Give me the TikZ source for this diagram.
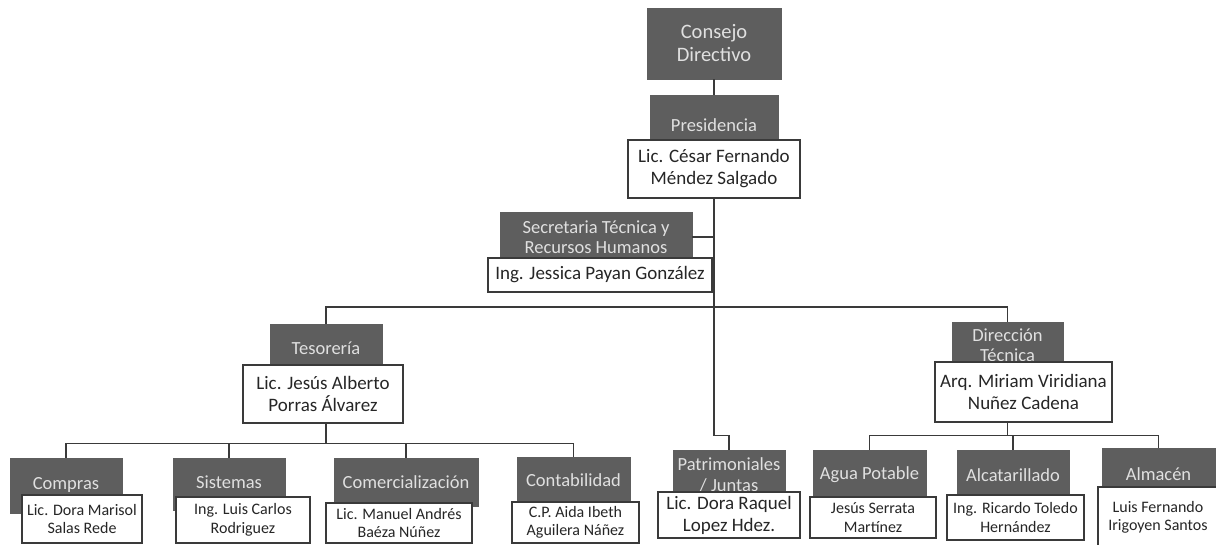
\documentclass[tikz,border=0pt]{standalone}
\usepackage{fontspec}
\setmainfont{Carlito}
\definecolor{unitgray}{HTML}{5E5E5E}
\definecolor{linegray}{HTML}{3A3A3A}

\begin{document}
\begin{tikzpicture}[x=1pt, y=-1pt,
    unit/.style = {fill=unitgray, draw=unitgray, text=white!88!black, align=center, inner sep=0pt, font=\fontsize{18.5}{20.5}\selectfont},
    person/.style = {fill=white, draw=linegray, line width=1.3pt, text=black!85, align=center, inner sep=0pt, font=\fontsize{19}{22}\selectfont},
    small/.style = {font=\fontsize{16}{18.5}\selectfont},
    link/.style = {draw=linegray, line width=1.6pt}]
    \useasboundingbox (0,0) rectangle (1216,545);

    % top of the chart
    \node[unit, minimum width=134pt, minimum height=71pt, font=\fontsize{20.5}{23}\selectfont] (consejo) at (714,43.5) {Consejo\\Directivo};
    \node[unit, minimum width=128pt, minimum height=60pt] (presd) at (714,125) {Presidencia};
    \node[person, minimum width=172pt, minimum height=58pt] (presw) at (714,169) {Lic. César Fernando\\Méndez Salgado};

    \node[unit, minimum width=192pt, minimum height=50pt] (secd) at (596,237) {Secretaria Técnica y\\Recursos Humanos};
    \node[person, minimum width=224pt, minimum height=34pt] (secw) at (600,275) {Ing. Jessica Payan González};

    % second level
    \node[unit, minimum width=112pt, minimum height=48pt] (tesd) at (326,348) {Tesorería};
    \node[person, minimum width=160pt, minimum height=58pt] (tesw) at (323,394) {Lic. Jesús Alberto\\Porras Álvarez};

    \node[unit, minimum width=111pt, minimum height=46pt] (dird) at (1007.5,345) {Dirección\\Técnica};
    \node[person, minimum width=177pt, minimum height=60pt] (dirw) at (1023.5,392) {Arq. Miriam Viridiana\\Nuñez Cadena};

    \node[unit, minimum width=112pt, minimum height=50pt] (patrd) at (729,475) {Patrimoniales\\/ Juntas};
    \node[person, minimum width=142pt, minimum height=46pt] (patrw) at (729,515) {Lic. Dora Raquel\\Lopez Hdez.};

    % under Tesoreria
    \node[unit, minimum width=112pt, minimum height=55pt] (compras) at (66,485.5) {\raisebox{4pt}{Compras}};
    \node[person, small, minimum width=120pt, minimum height=48pt] (comprasw) at (82,519) {Lic. Dora Marisol\\Salas Rede};

    \node[unit, minimum width=112pt, minimum height=52pt] (sistemas) at (229,484) {\raisebox{3pt}{Sistemas}};
    \node[person, small, minimum width=134pt, minimum height=46pt] (sistemasw) at (243,520) {Ing. Luis Carlos\\Rodriguez};

    \node[unit, minimum width=144pt, minimum height=48pt] (comerc) at (406,482) {Comercialización};
    \node[person, small, minimum width=146pt, minimum height=40pt] (comercw) at (399,523) {Lic. Manuel Andrés\\Baéza Núñez};

    \node[unit, minimum width=113pt, minimum height=46pt] (contab) at (573.5,480) {Contabilidad};
    \node[person, small, minimum width=127pt, minimum height=41pt] (contabw) at (575.5,522.5) {C.P. Aida Ibeth\\Aguilera Náñez};

    % under Direccion Tecnica
    \node[unit, minimum width=113pt, minimum height=50pt] (agua) at (869.5,475) {Agua Potable};
    \node[person, small, minimum width=126pt, minimum height=41pt] (aguaw) at (873,517.5) {Jesús Serrata\\Martínez};

    \node[unit, minimum width=112pt, minimum height=50pt] (alcant) at (1013,475) {Alcatarillado};
    \node[person, small, minimum width=137pt, minimum height=45pt] (alcantw) at (1015.5,517.5) {Ing. Ricardo Toledo\\Hernández};

    \node[unit, minimum width=113pt, minimum height=52pt] (almacen) at (1158.5,474) {Almacén};
    \node[person, small, minimum width=120pt, minimum height=61pt] (almacenw) at (1158,517.5) {Luis Fernando\\Irigoyen Santos};

    % connectors
    \draw[link] (consejo.south) -- (presd.north);
    \draw[link] (presw.south) -- ++(0,237) -| (patrd.north);
    \draw[link] (secd.east) -- (secd.east -| presw.south);
    \draw[link] (tesd.north) -- ++(0,-17) -| (dird.north);

    \draw[link] (tesw.south -| tesd.north) -- ++(0,20) coordinate (tbus);
    \foreach \n in {compras,sistemas,comerc,contab}
        \draw[link] (tbus) -| (\n.north);

    \draw[link] (dirw.south -| dird.north) -- ++(0,13) coordinate (dbus);
    \foreach \n in {agua,alcant,almacen}
        \draw[link] (dbus) -| (\n.north);
\end{tikzpicture}
\end{document}
